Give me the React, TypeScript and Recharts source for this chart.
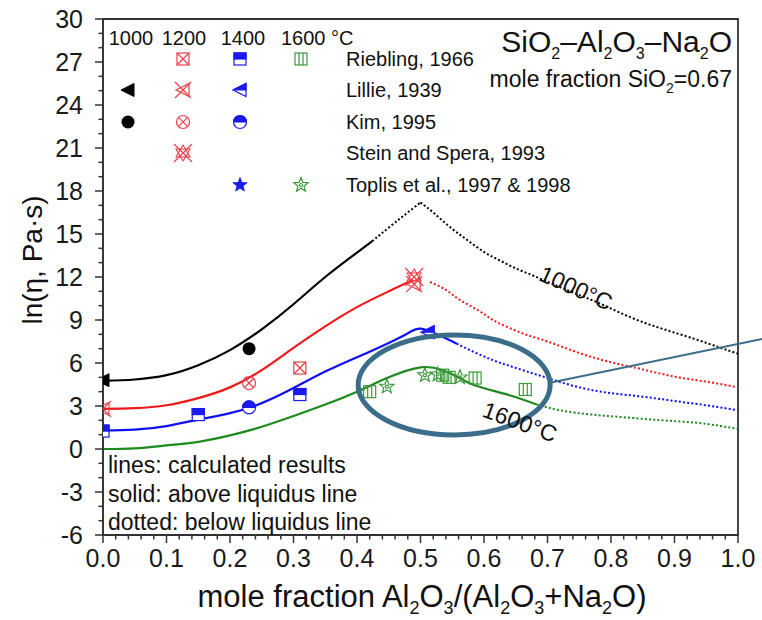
import React from "react";
import {
  ComposedChart,
  Line,
  Scatter,
  XAxis,
  YAxis,
  ReferenceArea,
  ReferenceDot,
  ReferenceLine,
} from "recharts";

type Pt = [number, number];

// Calculated viscosity curves, ln(eta) vs Al2O3/(Al2O3+Na2O)
const solid1000: Pt[] = [[0, 4.75], [0.05, 4.85], [0.1, 5.15], [0.15, 5.85], [0.2, 6.9], [0.25, 8.35], [0.3, 10.1], [0.35, 12.0], [0.4, 13.7], [0.424, 14.5]];
const dottedUp1000: Pt[] = [[0.424, 14.5], [0.46, 15.8], [0.5, 17.2]];
const dottedDown1000: Pt[] = [[0.5, 17.2], [0.52, 16.5], [0.546, 15.5], [0.573, 14.6], [0.6, 13.75], [0.625, 13.15], [0.65, 12.6], [0.68, 12.05], [0.73, 11.1], [0.78, 10.2], [0.83, 9.2], [0.88, 8.4], [0.93, 7.7], [0.97, 7.1], [1.0, 6.65]];

const solid1200: Pt[] = [[0, 2.8], [0.05, 2.85], [0.1, 3.05], [0.15, 3.55], [0.2, 4.3], [0.25, 5.5], [0.3, 7.05], [0.35, 8.55], [0.4, 9.9], [0.45, 11.0], [0.488, 11.8]];
const dotted1200: Pt[] = [[0.515, 11.65], [0.54, 11.1], [0.562, 10.4], [0.59, 9.7], [0.614, 9.0], [0.64, 8.45], [0.668, 7.95], [0.7, 7.5], [0.75, 6.7], [0.8, 6.05], [0.85, 5.55], [0.9, 5.05], [0.95, 4.7], [1.0, 4.3]];

const solid1400: Pt[] = [[0, 1.3], [0.05, 1.35], [0.1, 1.6], [0.15, 2.05], [0.2, 2.5], [0.25, 3.2], [0.3, 4.25], [0.35, 5.4], [0.4, 6.4], [0.45, 7.4], [0.483, 8.15], [0.5, 8.4], [0.526, 8.0], [0.557, 7.35]];
const dotted1400: Pt[] = [[0.557, 7.35], [0.585, 6.75], [0.614, 6.2], [0.64, 5.8], [0.668, 5.4], [0.7, 4.95], [0.75, 4.3], [0.8, 3.9], [0.85, 3.65], [0.9, 3.35], [0.95, 3.05], [1.0, 2.7]];

const solid1600: Pt[] = [[0, 0], [0.05, 0.05], [0.1, 0.25], [0.15, 0.5], [0.2, 0.95], [0.25, 1.55], [0.3, 2.3], [0.35, 3.1], [0.4, 4.0], [0.45, 5.0], [0.5, 5.7], [0.535, 5.5], [0.56, 5.0], [0.585, 4.45], [0.64, 3.75], [0.683, 3.1]];
const dotted1600: Pt[] = [[0.683, 3.1], [0.72, 2.7], [0.77, 2.4], [0.825, 2.2], [0.88, 2.0], [0.93, 1.85], [0.97, 1.62], [1.0, 1.4]];

// Measured viscosities
const riebling1200: Pt[] = [[0.31, 5.65]];
const riebling1400: Pt[] = [[0, 1.25], [0.15, 2.4], [0.31, 3.8]];
const riebling1600: Pt[] = [[0.42, 4.0], [0.535, 5.15], [0.545, 5.0], [0.586, 4.95], [0.665, 4.15]];
const lillie1000: Pt[] = [[0, 4.8]];
const lillie1200: Pt[] = [[0, 2.8], [0.49, 11.5]];
const lillie1400: Pt[] = [[0.512, 8.15]];
const kim1000: Pt[] = [[0.23, 7.0]];
const kim1200: Pt[] = [[0.23, 4.6]];
const kim1400: Pt[] = [[0.23, 2.9]];
const stein1200: Pt[] = [[0.49, 12.0]];
const toplis1600: Pt[] = [[0.447, 4.35], [0.507, 5.15], [0.527, 5.2], [0.562, 5.0]];

const legendTemps = ["1000", "1200", "1400", "1600 °C"];
const legendSources = ["Riebling, 1966", "Lillie, 1939", "Kim, 1995", "Stein and Spera, 1993", "Toplis et al., 1997 & 1998"];
const noteLines = ["lines: calculated results", "solid: above liquidus line", "dotted: below liquidus line"];

const FONT = "'Liberation Sans', Arial, sans-serif";
const AXIS = "#333";
const BLACK = "#000";
const RED = "#f01818";
const BLUE = "#1010f0";
const GREEN = "#1c8a1c";
const RED_M = "#e8404a";
const BLUE_M = "#1a1aee";
const GREEN_M = "#3a9a3a";
const NAVY = "#3b6d8a";

const toPts = (a: Pt[]) => a.map(([x, y]) => ({ x, y }));

const xTicks: number[] = Array.from({ length: 51 }, (_, i) => Math.round(i * 2) / 100);
const yTicks: number[] = Array.from({ length: 37 }, (_, i) => i - 6);

type Kind =
  | "sqX" | "sqHalf" | "sqBar"
  | "triFill" | "triX" | "triHalf"
  | "dot" | "circX" | "circHalf"
  | "starX" | "starFill" | "starOpen";

function starPath(cx: number, cy: number, ro: number, ri: number) {
  let d = "";
  for (let i = 0; i < 10; i++) {
    const r = i % 2 === 0 ? ro : ri;
    const a = -Math.PI / 2 + (i * Math.PI) / 5;
    d += `${i === 0 ? "M" : "L"}${cx + r * Math.cos(a)},${cy + r * Math.sin(a)}`;
  }
  return d + "Z";
}

function Marker({ kind, cx, cy, color }: { kind: Kind; cx: number; cy: number; color: string }) {
  const h = 6;
  const xPath = `M${cx - h},${cy - h}L${cx + h},${cy + h}M${cx + h},${cy - h}L${cx - h},${cy + h}`;
  const triL = `M${cx - 7},${cy}L${cx + 6},${cy - 6.5}L${cx + 6},${cy + 6.5}Z`;
  switch (kind) {
    case "sqX":
      return (
        <g stroke={color} fill="none" strokeWidth={1.2}>
          <rect x={cx - h} y={cy - h} width={2 * h} height={2 * h} />
          <path d={xPath} />
        </g>
      );
    case "sqHalf":
      return (
        <g stroke={color} strokeWidth={1.2}>
          <rect x={cx - h} y={cy - h} width={2 * h} height={2 * h} fill="#fff" />
          <rect x={cx - h} y={cy - h} width={2 * h} height={h} fill={color} />
        </g>
      );
    case "sqBar":
      return (
        <g stroke={color} fill="none" strokeWidth={1.2}>
          <rect x={cx - h} y={cy - h} width={2 * h} height={2 * h} />
          <path d={`M${cx - 2},${cy - h}L${cx - 2},${cy + h}M${cx + 2},${cy - h}L${cx + 2},${cy + h}`} />
        </g>
      );
    case "triFill":
      return <path d={triL} fill={color} stroke={color} />;
    case "triX":
      return (
        <g stroke={color} fill="none" strokeWidth={1.2}>
          <path d={triL} />
          <path d={`M${cx - 8},${cy - 8}L${cx + 8},${cy + 8}M${cx + 8},${cy - 8}L${cx - 8},${cy + 8}`} />
        </g>
      );
    case "triHalf":
      return (
        <g stroke={color} strokeWidth={1.2}>
          <path d={triL} fill="#fff" />
          <path d={`M${cx - 7},${cy}L${cx + 6},${cy - 6.5}L${cx + 6},${cy}Z`} fill={color} />
        </g>
      );
    case "dot":
      return <circle cx={cx} cy={cy} r={6.5} fill={color} />;
    case "circX":
      return (
        <g stroke={color} fill="none" strokeWidth={1.2}>
          <circle cx={cx} cy={cy} r={h + 0.5} />
          <path d={`M${cx - 4.6},${cy - 4.6}L${cx + 4.6},${cy + 4.6}M${cx + 4.6},${cy - 4.6}L${cx - 4.6},${cy + 4.6}`} />
        </g>
      );
    case "circHalf":
      return (
        <g stroke={color} strokeWidth={1.2}>
          <circle cx={cx} cy={cy} r={h + 0.5} fill="#fff" />
          <path d={`M${cx - h - 0.5},${cy}A${h + 0.5},${h + 0.5} 0 0 1 ${cx + h + 0.5},${cy}Z`} fill={color} />
        </g>
      );
    case "starX":
      return (
        <g stroke={color} fill="none" strokeWidth={1.1}>
          <path d={`M${cx},${cy - 8}L${cx + 7},${cy + 4}L${cx - 7},${cy + 4}Z`} />
          <path d={`M${cx},${cy + 8}L${cx + 7},${cy - 4}L${cx - 7},${cy - 4}Z`} />
          <path d={`M${cx - 9},${cy - 9}L${cx + 9},${cy + 9}M${cx + 9},${cy - 9}L${cx - 9},${cy + 9}`} />
        </g>
      );
    case "starFill":
      return <path d={starPath(cx, cy, 7.5, 3.2)} fill={color} stroke={color} strokeWidth={0.8} />;
    case "starOpen":
      return (
        <g stroke={color} fill="none" strokeWidth={1.2}>
          <path d={starPath(cx, cy, 7.5, 3.2)} />
          <circle cx={cx} cy={cy} r={1.5} />
        </g>
      );
  }
  return null;
}

const XTick = (props: any) => {
  const { x, y, payload } = props;
  const v: number = payload.value;
  const major = Math.abs(v * 10 - Math.round(v * 10)) < 1e-6;
  return (
    <g>
      <line x1={x} x2={x} y1={y} y2={y + (major ? 8 : 4.5)} stroke={AXIS} strokeWidth={1.5} />
      {major && (
        <text x={x} y={y + 32} textAnchor="middle" fontSize={25} fontFamily={FONT} fill="#1a1a1a">
          {v.toFixed(1)}
        </text>
      )}
    </g>
  );
};

const YTick = (props: any) => {
  const { x, y, payload } = props;
  const v: number = payload.value;
  const major = v % 3 === 0;
  return (
    <g>
      <line x1={x} x2={x - (major ? 8 : 4.5)} y1={y} y2={y} stroke={AXIS} strokeWidth={1.5} />
      {major && (
        <text x={x - 20} y={y + 9} textAnchor="end" fontSize={25} fontFamily={FONT} fill="#1a1a1a">
          {v}
        </text>
      )}
    </g>
  );
};

const scatterShape = (kind: Kind, color: string) => (p: any) =>
  <Marker kind={kind} cx={p.cx} cy={p.cy} color={color} />;

const legendRows: { kinds: (null | [Kind, string])[] }[] = [
  { kinds: [null, ["sqX", RED_M], ["sqHalf", BLUE_M], ["sqBar", GREEN_M]] },
  { kinds: [["triFill", BLACK], ["triX", RED_M], ["triHalf", BLUE_M], null] },
  { kinds: [["dot", BLACK], ["circX", RED_M], ["circHalf", BLUE_M], null] },
  { kinds: [null, ["starX", RED_M], null, null] },
  { kinds: [null, null, ["starFill", BLUE_M], ["starOpen", GREEN_M]] },
];

export default function App() {
  const solid = { dot: false, isAnimationActive: false, strokeWidth: 2.2, type: "natural" as const, dataKey: "y" };
  const dotted = { ...solid, strokeWidth: 2, strokeDasharray: "2 2.2" };
  const colX = [128, 183, 240, 301];
  const rowY = [59, 90, 122, 153, 185];
  return (
    <div style={{ position: "absolute", left: 0, top: 0, width: 762, height: 620, background: "#fff" }}>
      <ComposedChart width={762} height={620} margin={{ top: 19, right: 24, bottom: 15, left: 33 }}>
        <XAxis
          dataKey="x"
          type="number"
          domain={[0, 1]}
          ticks={xTicks}
          interval={0}
          tickSize={0}
          tickMargin={0}
          tickLine={false}
          tick={<XTick />}
          axisLine={{ stroke: AXIS, strokeWidth: 1.5 }}
          height={70}
          allowDataOverflow
        />
        <YAxis
          dataKey="y"
          type="number"
          domain={[-6, 30]}
          ticks={yTicks}
          interval={0}
          tickSize={0}
          tickMargin={0}
          tickLine={false}
          tick={<YTick />}
          axisLine={{ stroke: AXIS, strokeWidth: 1.5 }}
          width={70}
          allowDataOverflow
        />
        <ReferenceArea x1={0} x2={1} y1={-6} y2={30} fill="none" stroke={AXIS} strokeWidth={1.8} fillOpacity={0} />

        <Line data={toPts(solid1000)} stroke={BLACK} {...solid} />
        <Line data={toPts(dottedUp1000)} stroke={BLACK} {...dotted} />
        <Line data={toPts(dottedDown1000)} stroke={BLACK} {...dotted} />
        <Line data={toPts(solid1200)} stroke={RED} {...solid} />
        <Line data={toPts(dotted1200)} stroke={RED} {...dotted} />
        <Line data={toPts(solid1400)} stroke={BLUE} {...solid} />
        <Line data={toPts(dotted1400)} stroke={BLUE} {...dotted} />
        <Line data={toPts(solid1600)} stroke={GREEN} {...solid} />
        <Line data={toPts(dotted1600)} stroke={GREEN} {...dotted} />

        <Scatter data={toPts(riebling1200)} shape={scatterShape("sqX", RED_M)} isAnimationActive={false} />
        <Scatter data={toPts(riebling1400)} shape={scatterShape("sqHalf", BLUE_M)} isAnimationActive={false} />
        <Scatter data={toPts(riebling1600)} shape={scatterShape("sqBar", GREEN_M)} isAnimationActive={false} />
        <Scatter data={toPts(lillie1000)} shape={scatterShape("triFill", BLACK)} isAnimationActive={false} />
        <Scatter data={toPts(lillie1200)} shape={scatterShape("triX", RED_M)} isAnimationActive={false} />
        <Scatter data={toPts(lillie1400)} shape={scatterShape("triHalf", BLUE_M)} isAnimationActive={false} />
        <Scatter data={toPts(kim1000)} shape={scatterShape("dot", BLACK)} isAnimationActive={false} />
        <Scatter data={toPts(kim1200)} shape={scatterShape("circX", RED_M)} isAnimationActive={false} />
        <Scatter data={toPts(kim1400)} shape={scatterShape("circHalf", BLUE_M)} isAnimationActive={false} />
        <Scatter data={toPts(stein1200)} shape={scatterShape("starX", RED_M)} isAnimationActive={false} />
        <Scatter data={toPts(toplis1600)} shape={scatterShape("starOpen", GREEN_M)} isAnimationActive={false} />

        {/* highlighted peak region and pointer line */}
        <ReferenceDot
          x={0.553}
          y={4.47}
          ifOverflow="visible"
          shape={(p: any) => <ellipse cx={p.cx} cy={p.cy} rx={96} ry={50} fill="none" stroke={NAVY} strokeWidth={5} />}
        />
        <ReferenceLine
          segment={[{ x: 0.702, y: 4.6 }, { x: 1.04, y: 7.7 }]}
          ifOverflow="visible"
          stroke={NAVY}
          strokeWidth={2}
        />
      </ComposedChart>

      <svg width={762} height={620} style={{ position: "absolute", left: 0, top: 0, pointerEvents: "none" }} fontFamily={FONT}>
        {/* legend header */}
        <text x={131} y={45} fontSize={20} textAnchor="middle" fill="#111">{legendTemps[0]}</text>
        <text x={184} y={45} fontSize={20} textAnchor="middle" fill="#111">{legendTemps[1]}</text>
        <text x={243} y={45} fontSize={20} textAnchor="middle" fill="#111">{legendTemps[2]}</text>
        <text x={281} y={45} fontSize={20} fill="#111">{legendTemps[3]}</text>
        {legendRows.map((row, i) => (
          <g key={i}>
            {row.kinds.map((k, j) =>
              k ? <Marker key={j} kind={k[0]} cx={colX[j]} cy={rowY[i]} color={k[1]} /> : null
            )}
            <text x={346} y={rowY[i] + 7} fontSize={20} fill="#111">{legendSources[i]}</text>
          </g>
        ))}

        {/* system title */}
        <text x={732} y={52} fontSize={30} textAnchor="end" fill="#111">
          SiO<tspan fontSize={16} dy={7}>2</tspan>
          <tspan dy={-7}>–Al</tspan>
          <tspan fontSize={16} dy={7}>2</tspan>
          <tspan dy={-7}>O</tspan>
          <tspan fontSize={16} dy={7}>3</tspan>
          <tspan dy={-7}>–Na</tspan>
          <tspan fontSize={16} dy={7}>2</tspan>
          <tspan dy={-7}>O</tspan>
        </text>
        <text x={732} y={87} fontSize={23} textAnchor="end" fill="#111">
          mole fraction SiO<tspan fontSize={14} dy={6}>2</tspan>
          <tspan dy={-6}>=0.67</tspan>
        </text>

        {/* curve labels */}
        <text x={576} y={296} fontSize={23} textAnchor="middle" fill="#111" transform="rotate(24 576 288)">1000°C</text>
        <text x={520} y={430} fontSize={23} textAnchor="middle" fill="#111" transform="rotate(20 520 422)">1600°C</text>

        {/* notes */}
        {noteLines.map((t, i) => (
          <text key={i} x={108} y={473 + i * 28.5} fontSize={23} fill="#111">{t}</text>
        ))}

        {/* axis titles */}
        <text x={422} y={607} fontSize={31} textAnchor="middle" fill="#111">
          mole fraction Al<tspan fontSize={18} dy={7}>2</tspan>
          <tspan dy={-7}>O</tspan>
          <tspan fontSize={18} dy={7}>3</tspan>
          <tspan dy={-7}>/(Al</tspan>
          <tspan fontSize={18} dy={7}>2</tspan>
          <tspan dy={-7}>O</tspan>
          <tspan fontSize={18} dy={7}>3</tspan>
          <tspan dy={-7}>+Na</tspan>
          <tspan fontSize={18} dy={7}>2</tspan>
          <tspan dy={-7}>O)</tspan>
        </text>
        <text x={42} y={260} fontSize={28} textAnchor="middle" fill="#111" transform="rotate(-90 42 260)">
          ln(η, Pa·s)
        </text>
      </svg>
    </div>
  );
}
